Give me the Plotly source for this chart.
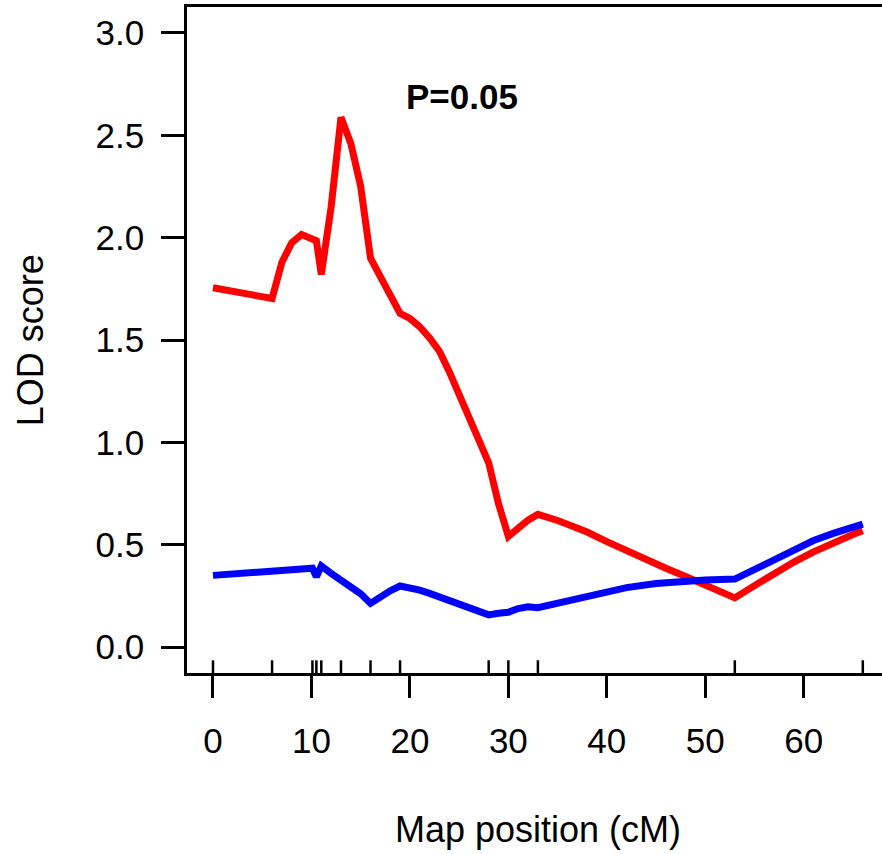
import plotly.graph_objects as go

# ---- data ----
red_pos = [0, 6, 7, 8, 9, 10.1, 10.5, 11, 12, 13, 14, 15, 16, 17, 18, 19, 20, 21, 22, 23, 24,
           25, 26, 27, 28, 29, 30, 31, 32, 33, 34, 35, 36, 37, 38, 40, 42, 44, 46, 48, 50, 52,
           53, 55, 57, 59, 61, 63, 65, 66]
red_lod = [1.755, 1.703, 1.88, 1.975, 2.015, 1.995, 1.985, 1.82, 2.15, 2.588, 2.46, 2.25, 1.90,
           1.81, 1.725, 1.63, 1.605, 1.565, 1.51, 1.445, 1.345, 1.235, 1.12, 1.005, 0.90, 0.70,
           0.54, 0.58, 0.62, 0.648, 0.635, 0.618, 0.60, 0.582, 0.562, 0.515, 0.47, 0.43, 0.385,
           0.345, 0.30, 0.26, 0.24, 0.30, 0.36, 0.415, 0.465, 0.51, 0.55, 0.568]

blue_pos = [0, 6, 9.8, 10.1, 10.5, 11, 12, 13, 14, 15, 16, 17, 18, 19, 20, 21, 22, 23, 24, 25,
            26, 27, 28, 29, 30, 31, 32, 33, 35, 37, 40, 42, 45, 48, 50, 53, 55, 57, 59, 61, 63,
            65, 66]
blue_lod = [0.35, 0.37, 0.385, 0.385, 0.343, 0.396, 0.36, 0.325, 0.30, 0.26, 0.213, 0.245, 0.275,
            0.298, 0.29, 0.278, 0.262, 0.243, 0.225, 0.207, 0.19, 0.173, 0.157, 0.165, 0.17,
            0.188, 0.197, 0.192, 0.215, 0.24, 0.27, 0.29, 0.31, 0.322, 0.327, 0.332, 0.38, 0.43,
            0.475, 0.52, 0.555, 0.585, 0.60]

marker_pos = [0, 6, 10.1, 10.5, 11, 13, 16, 19, 28, 30, 33, 53, 66]

x_ticks = [0, 10, 20, 30, 40, 50, 60]
y_ticks = [0.0, 0.5, 1.0, 1.5, 2.0, 2.5, 3.0]
y_ticktext = ["0.0", "0.5", "1.0", "1.5", "2.0", "2.5", "3.0"]

annot_text = "P=0.05"
x_title = "Map position (cM)"
y_title = "LOD score"

# ---- style ----
FONT = "Liberation Sans, Arial, Helvetica, sans-serif"
Y_MIN, Y_MAX = -0.127, 3.127
X_MIN, X_MAX = -2.64, 67.95
RUG_LEN = 0.062

rug_x, rug_y = [], []
for m in marker_pos:
    rug_x += [m, m, None]
    rug_y += [Y_MIN, Y_MIN + RUG_LEN, None]

fig = go.Figure()
fig.add_trace(go.Scatter(x=red_pos, y=red_lod, mode="lines",
                         line=dict(color="#FF0000", width=7), showlegend=False))
fig.add_trace(go.Scatter(x=blue_pos, y=blue_lod, mode="lines",
                         line=dict(color="#0000FF", width=7), showlegend=False))
fig.add_trace(go.Scatter(x=rug_x, y=rug_y, mode="lines",
                         line=dict(color="black", width=2.5), showlegend=False))

fig.add_annotation(x=25.26, y=2.692, xref="x", yref="y", text="<b>%s</b>" % annot_text,
                   showarrow=False, font=dict(family=FONT, size=35, color="black"),
                   xanchor="center", yanchor="middle")
fig.add_annotation(x=33, y=-0.2357, xref="x", yref="paper", text=x_title,
                   showarrow=False, font=dict(family=FONT, size=36, color="black"),
                   xanchor="center", yanchor="middle")
fig.add_annotation(x=-0.2256, y=0.5, xref="paper", yref="paper", text=y_title, textangle=-90,
                   showarrow=False, font=dict(family=FONT, size=36, color="black"),
                   xanchor="center", yanchor="middle")

fig.update_layout(
    width=882, height=854,
    margin=dict(l=187, r=0, t=7, b=181, pad=0),
    paper_bgcolor="white", plot_bgcolor="white",
    font=dict(family=FONT, color="black"),
    xaxis=dict(range=[X_MIN, X_MAX], tickmode="array", tickvals=x_ticks,
               ticks="outside", ticklen=22, tickwidth=2.5, tickcolor="black",
               showline=True, linewidth=2.5, linecolor="black", mirror=True,
               showgrid=False, zeroline=False, tickfont=dict(size=35, family=FONT),
               ticklabelstandoff=13),
    yaxis=dict(range=[Y_MIN, Y_MAX], tickmode="array", tickvals=y_ticks, ticktext=y_ticktext,
               ticks="outside", ticklen=23, tickwidth=2.5, tickcolor="black",
               showline=True, linewidth=2.5, linecolor="black", mirror=False,
               showgrid=False, zeroline=False, tickfont=dict(size=35, family=FONT),
               ticklabelstandoff=10),
)

fig.write_html("out.html", config={"displayModeBar": False},
               post_script="document.body.style.margin='0';document.body.style.overflow='hidden';")
